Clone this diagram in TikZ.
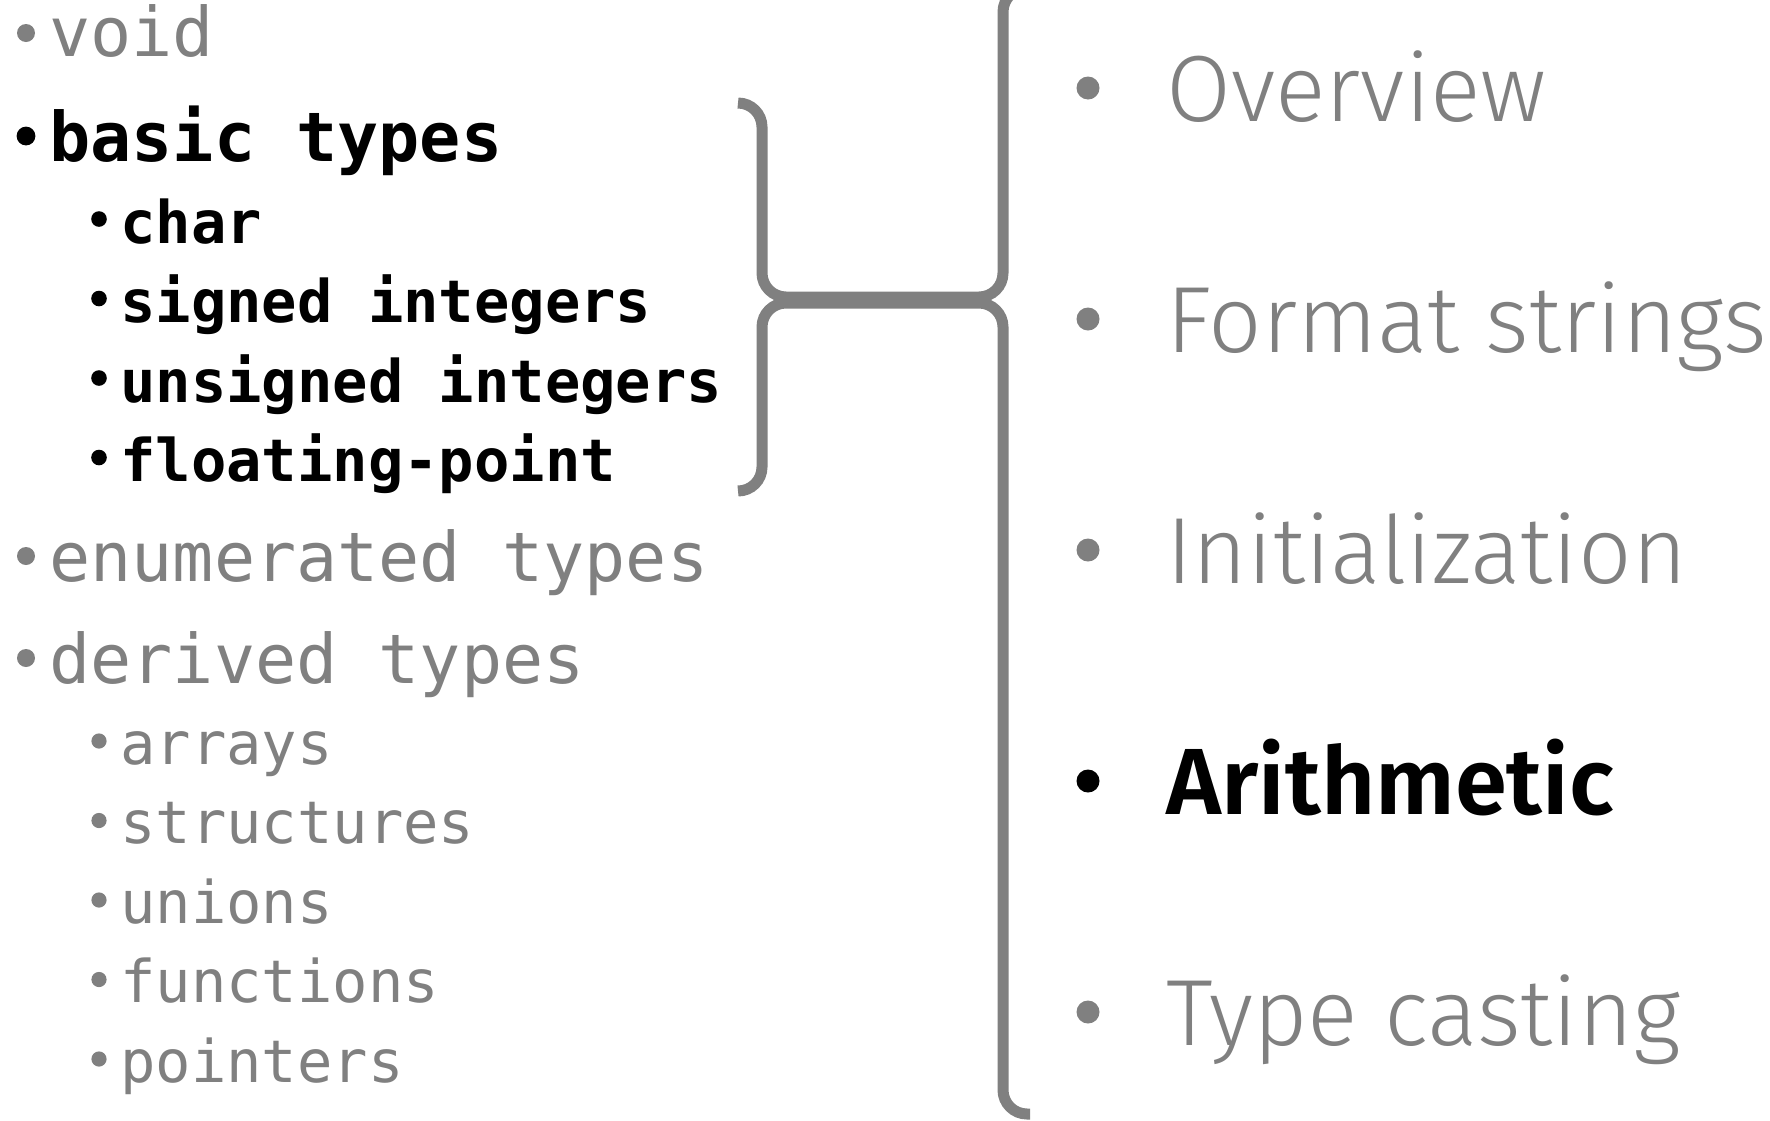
\documentclass[tikz,border=0pt]{standalone}
\usepackage{fontspec}
\newfontfamily\monofont{DejaVu Sans Mono}
\newfontfamily\topicfont{Fira Sans Light}[BoldFont={Fira Sans SemiBold}]
\definecolor{dimgray}{HTML}{808080}
\tikzset{
  lvlone/.style={anchor=base west, inner sep=0pt, font=\monofont\fontsize{34.2pt}{40pt}\selectfont},
  lvltwo/.style={anchor=base west, inner sep=0pt, font=\monofont\fontsize{29.4pt}{35pt}\selectfont},
  topic/.style={anchor=base west, inner sep=0pt, font=\topicfont\fontsize{47pt}{56pt}\selectfont},
  faded/.style={text=dimgray},
  current/.style={text=black, execute at begin node=\bfseries},
  brace/.style={draw=dimgray, line width=5.5pt, rounded corners=12pt},
}
\begin{document}
\begin{tikzpicture}[x=0.5pt, y=-0.5pt]
  \useasboundingbox (0,0) rectangle (1770,1120);
  \clip (0,0) rectangle (1770,1120);

  % left column: C type hierarchy
  \node[lvlone, faded]  (void)  at (49,56)    {void};
  \node[lvlone, current](basic) at (49,161)   {basic types};
  \node[lvltwo, current](char)  at (120,243)  {char};
  \node[lvltwo, current](sint)  at (120,322.5){signed integers};
  \node[lvltwo, current](uint)  at (120,402)  {unsigned integers};
  \node[lvltwo, current](flt)   at (120,481.5){floating-point};
  \node[lvlone, faded]  (enum)  at (49,581)   {enumerated types};
  \node[lvlone, faded]  (deriv) at (49,683)   {derived types};
  \node[lvltwo, faded]  (arr)   at (120,764)  {arrays};
  \node[lvltwo, faded]  (struc) at (120,843.5){structures};
  \node[lvltwo, faded]  (uni)   at (120,923)  {unions};
  \node[lvltwo, faded]  (func)  at (120,1002.5){functions};
  \node[lvltwo, faded]  (ptr)   at (120,1082) {pointers};

  % left column bullets
  \fill[dimgray] (26,33)  circle[radius=4.5pt];
  \fill[black]   (26,136) circle[radius=4.7pt];
  \fill[black]   (99,219)   circle[radius=3.9pt];
  \fill[black]   (99,298.5) circle[radius=3.9pt];
  \fill[black]   (99,378)   circle[radius=3.9pt];
  \fill[black]   (99,457.5) circle[radius=3.9pt];
  \fill[dimgray] (26,556) circle[radius=4.5pt];
  \fill[dimgray] (26,658) circle[radius=4.5pt];
  \fill[dimgray] (99,741)    circle[radius=3.8pt];
  \fill[dimgray] (99,820.5)  circle[radius=3.8pt];
  \fill[dimgray] (99,900)    circle[radius=3.8pt];
  \fill[dimgray] (99,979.5)  circle[radius=3.8pt];
  \fill[dimgray] (99,1059)   circle[radius=3.8pt];

  % right column: lecture outline
  \node[topic, faded]   (ovw)  at (1166,121)  {Overview};
  \node[topic, faded]   (fmt)  at (1166,352)  {Format strings};
  \node[topic, faded]   (init) at (1166,583)  {Initialization};
  \node[topic, current] (arith)at (1166,814)  {Arithmetic};
  \node[topic, faded]   (cast) at (1166,1045) {Type casting};

  \fill[dimgray] (1088,88)   circle[radius=5.75pt];
  \fill[dimgray] (1088,319)  circle[radius=5.75pt];
  \fill[dimgray] (1088,550)  circle[radius=5.75pt];
  \fill[black]   (1088,781)  circle[radius=5.75pt];
  \fill[dimgray] (1088,1012) circle[radius=5.75pt];

  % joined braces: basic types -> Arithmetic section
  \coordinate (btop) at (738,103);
  \coordinate (bbot) at (738,491);
  \coordinate (ttop) at (1030,-12);
  \coordinate (tbot) at (1030,1114);
  \draw[brace] (btop) -| (762,297) -| (1003,-12) -- (ttop);
  \draw[brace] (bbot) -| (762,303) -| (1003,1114) -- (tbot);
\end{tikzpicture}
\end{document}
